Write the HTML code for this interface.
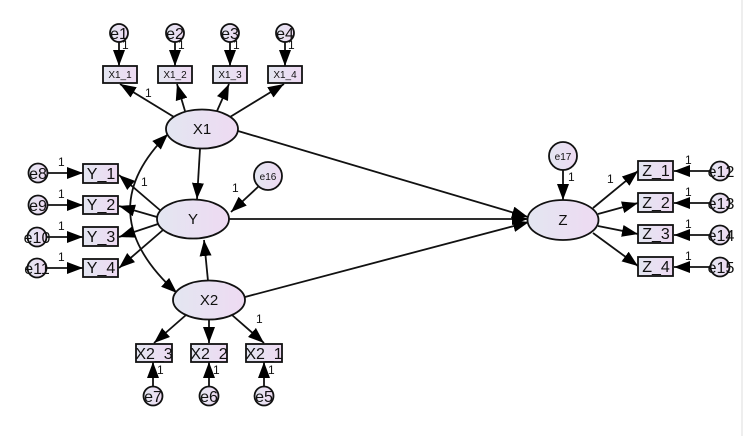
<!DOCTYPE html>
<html><head><meta charset="utf-8"><style>
html,body{margin:0;padding:0;background:#fff;}
svg{display:block;}
text{font-family:"Liberation Sans",Arial,sans-serif;fill:#111;}
.n{font-size:12px;fill:#333;}
</style></head><body>
<svg width="743" height="436" viewBox="0 0 743 436" xmlns="http://www.w3.org/2000/svg">
<defs>
<linearGradient id="g" x1="0" y1="0" x2="1" y2="0">
<stop offset="0" stop-color="#e3e6f1"/><stop offset="1" stop-color="#eedaf2"/>
</linearGradient>
<marker id="a" viewBox="0 0 16 12" refX="16" refY="6" markerWidth="16" markerHeight="12" markerUnits="userSpaceOnUse" orient="auto">
<path d="M0,0 L16,6 L0,12 Z" fill="#000"/>
</marker>
<marker id="as" viewBox="0 0 16 12" refX="0" refY="6" markerWidth="16" markerHeight="12" markerUnits="userSpaceOnUse" orient="auto">
<path d="M16,0 L0,6 L16,12 Z" fill="#000"/>
</marker>
</defs>
<rect x="741" y="0" width="2" height="436" fill="#eeeeee"/>
<g stroke="#111" stroke-width="1.8" fill="none">
<line x1="119" y1="42" x2="119" y2="66" marker-end="url(#a)"/>
<line x1="175" y1="42" x2="175" y2="66" marker-end="url(#a)"/>
<line x1="230" y1="42" x2="230" y2="66" marker-end="url(#a)"/>
<line x1="285" y1="42" x2="285" y2="66" marker-end="url(#a)"/>
<line x1="174" y1="117" x2="120" y2="84" marker-end="url(#a)"/>
<line x1="185" y1="111" x2="177" y2="84" marker-end="url(#a)"/>
<line x1="217" y1="111" x2="229" y2="84" marker-end="url(#a)"/>
<line x1="230" y1="117" x2="284" y2="84" marker-end="url(#a)"/>
<line x1="200" y1="149" x2="197" y2="199" marker-end="url(#a)"/>
<line x1="238" y1="131" x2="528" y2="217" marker-end="url(#a)"/>
<line x1="229" y1="219" x2="528" y2="219" marker-end="url(#a)"/>
<line x1="245" y1="297" x2="529" y2="222" marker-end="url(#a)"/>
<line x1="208" y1="281" x2="204" y2="240" marker-end="url(#a)"/>
<line x1="259" y1="186" x2="231" y2="212" marker-end="url(#a)"/>
<line x1="563" y1="170" x2="563" y2="200" marker-end="url(#a)"/>
<path d="M168,134 Q88,213 177,293" marker-start="url(#as)" marker-end="url(#a)"/>
<line x1="161" y1="211" x2="119" y2="175" marker-end="url(#a)"/>
<line x1="157" y1="217" x2="119" y2="206" marker-end="url(#a)"/>
<line x1="158" y1="224" x2="119" y2="237" marker-end="url(#a)"/>
<line x1="163" y1="230" x2="119" y2="268" marker-end="url(#a)"/>
<line x1="47" y1="173" x2="83" y2="173" marker-end="url(#a)"/>
<line x1="47" y1="205" x2="83" y2="205" marker-end="url(#a)"/>
<line x1="46" y1="237" x2="83" y2="237" marker-end="url(#a)"/>
<line x1="46" y1="268" x2="83" y2="268" marker-end="url(#a)"/>
<line x1="186" y1="315" x2="154" y2="343" marker-end="url(#a)"/>
<line x1="209" y1="320" x2="209" y2="343" marker-end="url(#a)"/>
<line x1="232" y1="315" x2="264" y2="343" marker-end="url(#a)"/>
<line x1="153" y1="387" x2="153" y2="362" marker-end="url(#a)"/>
<line x1="209" y1="387" x2="209" y2="362" marker-end="url(#a)"/>
<line x1="264" y1="387" x2="264" y2="362" marker-end="url(#a)"/>
<line x1="593" y1="208" x2="638" y2="171" marker-end="url(#a)"/>
<line x1="598" y1="214" x2="638" y2="203" marker-end="url(#a)"/>
<line x1="598" y1="226" x2="638" y2="234" marker-end="url(#a)"/>
<line x1="593" y1="233" x2="638" y2="266" marker-end="url(#a)"/>
<line x1="711" y1="171" x2="674" y2="171" marker-end="url(#a)"/>
<line x1="711" y1="203" x2="674" y2="203" marker-end="url(#a)"/>
<line x1="711" y1="235" x2="674" y2="235" marker-end="url(#a)"/>
<line x1="711" y1="267" x2="674" y2="267" marker-end="url(#a)"/>
</g>
<g stroke="#111" stroke-width="1.8" fill="url(#g)">
<ellipse cx="202" cy="129" rx="36" ry="19.5"/>
<ellipse cx="193" cy="219" rx="36" ry="19.5"/>
<ellipse cx="209" cy="300" rx="36" ry="19.5"/>
<ellipse cx="563" cy="220" rx="35.5" ry="20"/>
<rect x="103" y="66" width="34" height="17"/>
<rect x="158" y="66" width="34" height="17"/>
<rect x="213" y="66" width="34" height="17"/>
<rect x="268" y="66" width="34" height="17"/>
<rect x="83" y="164" width="35" height="19"/>
<rect x="83" y="196" width="35" height="18"/>
<rect x="83" y="227" width="35" height="19"/>
<rect x="83" y="259" width="35" height="18"/>
<rect x="136" y="344" width="36" height="18"/>
<rect x="191" y="344" width="36" height="18"/>
<rect x="246" y="344" width="36" height="18"/>
<rect x="638" y="161" width="35" height="19"/>
<rect x="638" y="193" width="35" height="19"/>
<rect x="638" y="225" width="35" height="18"/>
<rect x="638" y="257" width="35" height="19"/>
<circle cx="119" cy="33" r="9"/>
<circle cx="175" cy="33" r="9"/>
<circle cx="230" cy="33" r="9"/>
<circle cx="285" cy="33" r="9"/>
<circle cx="38" cy="173" r="9.5"/>
<circle cx="38" cy="205" r="9.5"/>
<circle cx="37" cy="237" r="9.5"/>
<circle cx="37" cy="268" r="9.5"/>
<circle cx="268" cy="176" r="14"/>
<circle cx="563" cy="156" r="14"/>
<circle cx="153" cy="396" r="9.5"/>
<circle cx="209" cy="396" r="9.5"/>
<circle cx="264" cy="396" r="9.5"/>
<circle cx="720" cy="171" r="9.5"/>
<circle cx="720" cy="203" r="9.5"/>
<circle cx="720" cy="235" r="9.5"/>
<circle cx="720" cy="267" r="9.5"/>
</g>
<g text-anchor="middle" font-size="15">
<text x="202" y="134">X1</text>
<text x="193" y="224">Y</text>
<text x="209" y="305">X2</text>
<text x="563" y="225">Z</text>
<text x="119" y="39" font-size="16">e1</text>
<text x="175" y="39" font-size="16">e2</text>
<text x="230" y="39" font-size="16">e3</text>
<text x="285" y="39" font-size="16">e4</text>
<text x="38" y="179" font-size="16">e8</text>
<text x="38" y="211" font-size="16">e9</text>
<text x="37" y="243" font-size="16">e10</text>
<text x="37" y="274" font-size="16">e11</text>
<text x="153" y="402" font-size="16">e7</text>
<text x="209" y="402" font-size="16">e6</text>
<text x="264" y="402" font-size="16">e5</text>
<text x="721" y="177" font-size="16">e12</text>
<text x="721" y="209" font-size="16">e13</text>
<text x="721" y="241" font-size="16">e14</text>
<text x="721" y="273" font-size="16">e15</text>
<text x="268" y="180" font-size="10">e16</text>
<text x="563" y="160" font-size="10">e17</text>
<text x="120" y="78" font-size="10">X1_1</text>
<text x="175" y="78" font-size="10">X1_2</text>
<text x="230" y="78" font-size="10">X1_3</text>
<text x="285" y="78" font-size="10">X1_4</text>
<text x="101" y="179" font-size="16">Y_1</text>
<text x="101" y="210" font-size="16">Y_2</text>
<text x="101" y="242" font-size="16">Y_3</text>
<text x="101" y="273" font-size="16">Y_4</text>
<text x="154" y="359" font-size="16">X2_3</text>
<text x="209" y="359" font-size="16">X2_2</text>
<text x="264" y="359" font-size="16">X2_1</text>
<text x="656" y="176" font-size="16">Z_1</text>
<text x="656" y="208" font-size="16">Z_2</text>
<text x="656" y="239" font-size="16">Z_3</text>
<text x="656" y="272" font-size="16">Z_4</text>
</g>
<g class="n">
<text x="122" y="49">1</text>
<text x="178" y="49">1</text>
<text x="233" y="49">1</text>
<text x="288" y="49">1</text>
<text x="145" y="97">1</text>
<text x="141" y="186">1</text>
<text x="232" y="192">1</text>
<text x="568" y="181">1</text>
<text x="256" y="323">1</text>
<text x="157" y="374">1</text>
<text x="213" y="374">1</text>
<text x="268" y="374">1</text>
<text x="58" y="166">1</text>
<text x="58" y="198">1</text>
<text x="58" y="230">1</text>
<text x="58" y="261">1</text>
<text x="607" y="183">1</text>
<text x="685" y="164">1</text>
<text x="685" y="196">1</text>
<text x="685" y="228">1</text>
<text x="685" y="260">1</text>
</g>
</svg>
</body></html>
